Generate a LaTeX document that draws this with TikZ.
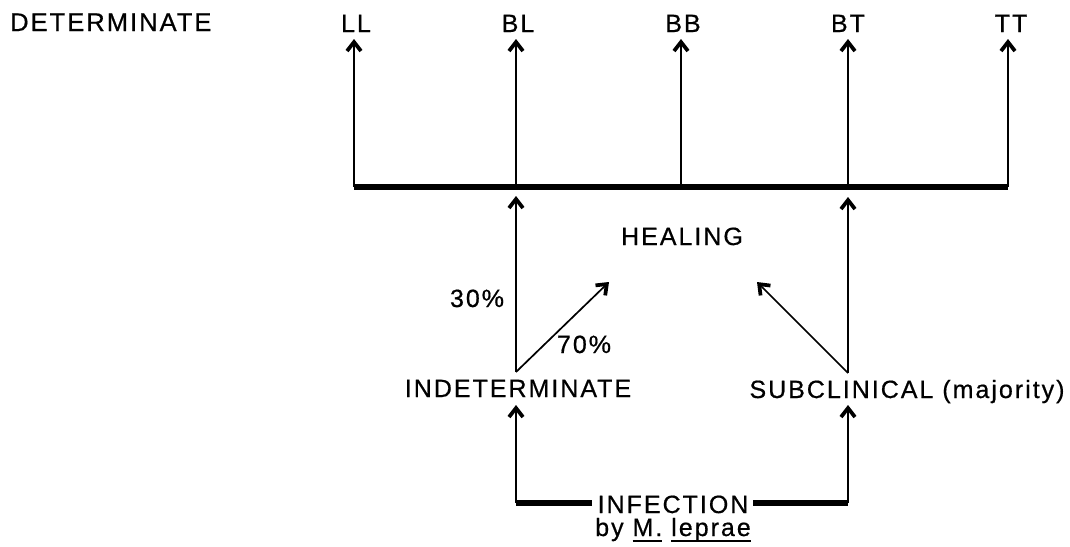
\documentclass[tikz,border=0pt]{standalone}
\usepackage{fontspec}
\setmainfont[LetterSpace=8,FakeBold=0.6]{Liberation Sans}
\usetikzlibrary{arrows.meta}
\newcommand\myul[1]{\setbox0\hbox{#1}\rlap{\rule[-6pt]{\wd0}{1.8pt}}\box0\relax}
\tikzset{
  lab/.style={inner sep=0pt, anchor=base, font=\fontsize{25}{29}\selectfont},
  arr/.style={line width=1.7pt, -{Straight Barb[length=9pt,width=14pt,line width=0pt 2.2]}},
  bar/.style={line width=6pt},
  thickline/.style={line width=5.5pt},
}
\begin{document}
\begin{tikzpicture}[x=1pt,y=-1pt]
\useasboundingbox (0,0) rectangle (1070,546);
% labels
\node[lab, anchor=base west, font=\fontsize{25.5}{30}\selectfont] (det) at (10,31) {DETERMINATE};
\node[lab] (LL) at (356,32) {LL};
\node[lab] (BL) at (518,32) {BL};
\node[lab] (BB) at (683,32) {BB};
\node[lab] (BT) at (848,32) {BT};
\node[lab] (TT) at (1011,32) {TT};
\node[lab] (heal) at (682,245) {HEALING};
\node[lab] (p30) at (477,307) {30\%};
\node[lab] (p70) at (584,353) {70\%};
\node[lab] (ind) at (518,397) {INDETERMINATE};
\node[lab] (sub) at (907,398) {SUBCLINICAL (majority)};
\node[lab] (inf) at (673,513) {INFECTION};
\node[lab] (by) at (673,536) {by \myul{M.} \myul{leprae}};
% coordinates
\coordinate (b1) at (354,186.5);
\coordinate (b2) at (516,186.5);
\coordinate (b3) at (681,186.5);
\coordinate (b4) at (848,186.5);
\coordinate (b5) at (1008,186.5);
\coordinate (t1) at (354,39);
\coordinate (t2) at (516,39);
\coordinate (t3) at (681,39);
\coordinate (t4) at (848,39);
\coordinate (t5) at (1008,39);
\coordinate (u2) at (516,196);
\coordinate (u4) at (848,197);
\coordinate (i0) at (516,372);
\coordinate (s0) at (848,373);
\coordinate (hL) at (609,282);
\coordinate (hR) at (757,282);
\coordinate (cL) at (516,503);
\coordinate (cR) at (848,503);
\coordinate (eL) at (592,503);
\coordinate (eR) at (753,503);
\coordinate (iT) at (516,405);
\coordinate (sT) at (848,405);
% bar
\draw[bar] (b1) -- (b5);
\foreach \i in {1,...,5} \draw[arr] (b\i) -- (t\i);
% middle
\draw[arr] (i0) -- (u2);
\draw[arr] (i0) -- (hL);
\draw[arr] (s0) -- (u4);
\draw[arr] (s0) -- (hR);
% bottom
\draw[thickline] (eL) -- (cL);
\draw[thickline] (eR) -- (cR);
\draw[arr] (cL) -- (iT);
\draw[arr] (cR) -- (sT);
\end{tikzpicture}
\end{document}
